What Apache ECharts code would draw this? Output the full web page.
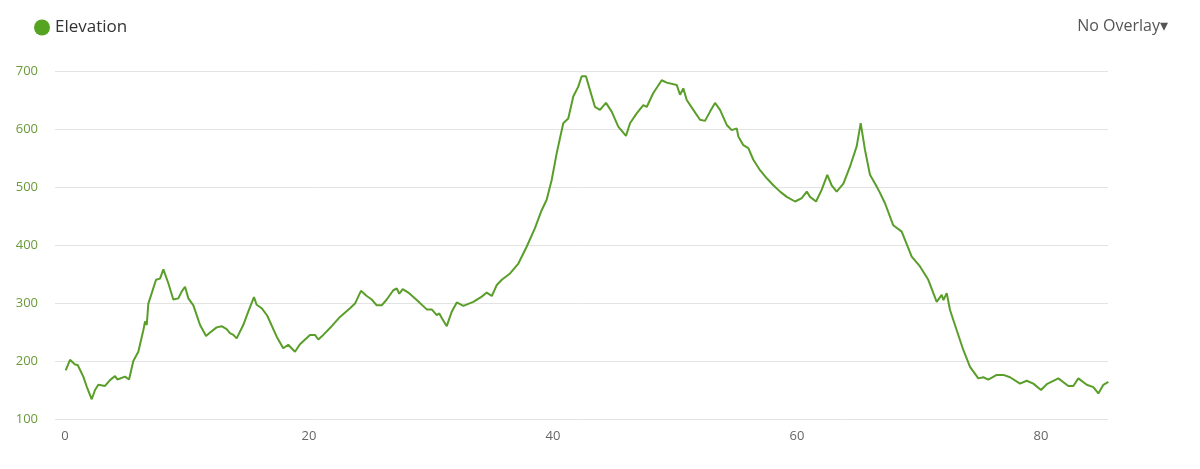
<!DOCTYPE html>
<html><head><meta charset="utf-8">
<script src="https://cdn.jsdelivr.net/npm/echarts@6/dist/echarts.min.js"></script>
<style>html,body{margin:0;padding:0;background:#fff}#c{width:1200px;height:469px}</style>
</head><body><div id="c"></div>
<script>
const distanceKm = [0.06,0.41,0.82,1.04,1.50,1.78,2.19,2.46,2.73,3.28,3.69,4.10,4.29,4.92,5.25,5.60,6.01,6.42,6.56,6.70,6.83,7.11,7.46,7.79,8.06,8.20,8.47,8.88,9.29,9.57,9.84,10.11,10.52,11.07,11.56,11.89,12.43,12.84,13.25,13.52,13.80,14.07,14.20,14.61,15.02,15.49,15.71,16.12,16.58,17.35,17.89,18.30,18.85,19.26,20.08,20.49,20.76,21.17,21.86,22.54,23.36,23.77,24.26,24.73,25.14,25.55,25.96,26.37,26.91,27.19,27.40,27.68,28.14,28.83,29.65,30.06,30.47,30.68,30.88,31.29,31.70,32.11,32.65,33.47,34.16,34.57,34.98,35.39,35.80,36.48,37.16,37.84,38.52,39.07,39.48,39.89,40.30,40.57,40.84,41.25,41.66,42.07,42.35,42.70,43.03,43.44,43.85,44.34,44.81,45.35,45.98,46.31,46.86,47.40,47.68,48.22,48.91,49.32,50.14,50.41,50.68,50.96,51.50,52.05,52.46,52.87,53.28,53.69,54.24,54.65,55.06,55.19,55.60,56.01,56.42,56.97,57.52,58.06,58.61,59.16,59.84,60.39,60.80,61.07,61.56,62.02,62.48,62.84,63.25,63.80,64.34,64.89,65.22,65.57,65.98,66.39,66.75,67.21,67.89,68.58,69.40,70.08,70.76,71.45,71.86,72.00,72.27,72.54,73.09,73.63,74.18,74.86,75.27,75.68,76.37,76.91,77.46,78.28,78.83,79.37,80.00,80.47,81.42,82.24,82.65,83.06,83.75,84.29,84.70,85.11,85.52];
const elevation = [184,202,194,193,173,156,134,150,159,157,167,174,168,173,168,200,216,253,268,262,299,317,340,342,358,358,334,306,308,320,328,308,296,262,243,249,258,260,255,248,245,239,242,262,285,310,297,291,278,242,222,228,216,229,245,245,237,245,260,276,291,299,321,312,306,296,296,306,322,325,316,324,318,305,289,289,279,282,274,260,285,301,295,302,311,318,312,331,340,351,368,397,429,460,478,512,558,584,610,618,656,673,691,691,667,638,633,645,630,604,588,610,627,641,638,662,684,680,676,659,670,650,633,616,614,630,645,633,607,598,601,587,572,567,547,529,515,503,492,483,475,481,492,483,475,495,521,503,492,506,535,570,610,564,521,506,492,472,434,423,380,363,340,302,314,305,317,288,253,219,190,170,172,168,176,176,172,161,166,161,150,160,170,157,157,170,159,155,144,159,164];
const xTicks = [0,20,40,60,80];
const yTicks = [100,200,300,400,500,600,700];

const chart = echarts.init(document.getElementById('c'), null, {renderer:'canvas'});
chart.setOption({
  animation:false,
  backgroundColor:'#fff',
  legend:{left:29,top:14,itemWidth:16,itemHeight:16,icon:'circle',itemGap:8,
    textStyle:{fontFamily:'Open Sans',fontSize:17,color:'#333'},data:['Elevation']},
  graphic:[{type:'text',right:32,top:18,style:{text:'No Overlay\u25BE',fontFamily:'Open Sans',fontSize:16,fill:'#555'}}],
  grid:{left:55,right:92,top:71,bottom:50,containLabel:false},
  xAxis:{type:'value',min:-0.82,max:85.49,
    axisLine:{show:false},axisTick:{show:false},splitLine:{show:false},
    axisLabel:{customValues:xTicks,color:'#666',fontFamily:'Open Sans',fontSize:13,margin:11}},
  yAxis:{type:'value',min:100,max:700,interval:100,
    axisLine:{show:false},axisTick:{show:false},
    splitLine:{lineStyle:{color:'#e3e3e3',width:1}},
    axisLabel:{color:'#6a9a3a',fontFamily:'Open Sans',fontSize:13,margin:17}},
  series:[{name:'Elevation',type:'line',showSymbol:false,symbol:'none',
    color:'#56a322',lineStyle:{width:2,color:'#5a9e2a'},
    data:distanceKm.map((d,i)=>[d,elevation[i]])}]
});
</script></body></html>
